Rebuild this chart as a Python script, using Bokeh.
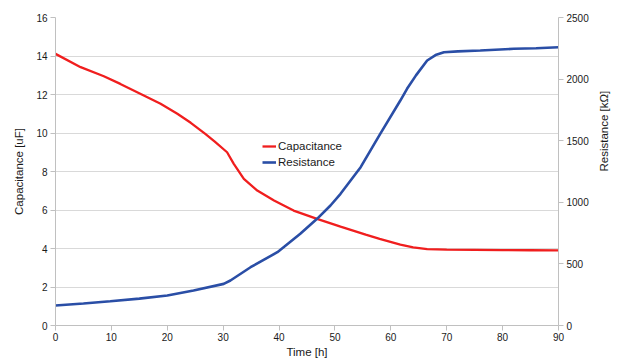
from bokeh.plotting import figure
from bokeh.models import Range1d, LinearAxis, SingleIntervalTicker, Legend, LegendItem
from bokeh.embed import file_html
from bokeh.resources import INLINE
import math

# Capacitance series [uF]
cap_t = [0, 4.5, 8.65, 11.6, 15.8, 18.8, 21.8, 24.2, 26.8, 28.5, 30.7, 31.9, 33.7, 36.1,
         39.1, 42.6, 46.8, 51, 55.5, 58, 61.7, 64, 66.5, 70, 75, 80, 85, 90]
cap_v = [14.11, 13.42, 12.95, 12.55, 11.95, 11.52, 11.0, 10.53, 9.95, 9.55, 9.0, 8.4, 7.62, 7.01,
         6.49, 5.97, 5.54, 5.14, 4.72, 4.5, 4.2, 4.06, 3.97, 3.94, 3.93, 3.92, 3.91, 3.9]

# Resistance series [kOhm]
res_t = [0, 5, 9.8, 15, 20, 24.7, 30.1, 31.3, 34.9, 39.7, 43.8, 46.8, 49.2, 51, 54.6, 58.1,
         61.7, 62.9, 64.5, 66.5, 68, 69.5, 72, 76, 82, 86, 90]
res_v = [162, 178, 197, 218, 243, 284, 338, 365, 473, 595, 744, 866, 974, 1069, 1285, 1556,
         1826, 1921, 2030, 2151, 2195, 2218, 2225, 2232, 2246, 2250, 2259]

series_names = ["Capacitance", "Resistance"]

FONT = "Liberation Sans"
TXT = "#1a1a1a"
AXC = "#c0c0c0"

p = figure(width=618, height=362, output_backend="svg", toolbar_location=None,
           x_range=Range1d(0, 90), y_range=Range1d(0, 16),
           min_border_left=55, min_border_right=60, min_border_top=17, min_border_bottom=37)
p.extra_y_ranges = {"res": Range1d(0, 2500)}
p.outline_line_color = None
p.background_fill_color = "white"
p.border_fill_color = "white"

r1 = p.line(cap_t, cap_v, line_color="#f01e1e", line_width=2.3)
r2 = p.line(res_t, res_v, line_color="#2a4ea6", line_width=2.6, y_range_name="res")

raxis = LinearAxis(y_range_name="res")
p.add_layout(raxis, "right")

p.xaxis.ticker = SingleIntervalTicker(interval=10)
p.yaxis[0].ticker = SingleIntervalTicker(interval=2)
raxis.ticker = SingleIntervalTicker(interval=500)

p.xaxis.axis_label = "Time [h]"
p.yaxis[0].axis_label = "Capacitance [uF]"
raxis.axis_label = "Resistance [kΩ]"

for ax in [p.xaxis[0], p.yaxis[0], raxis]:
    ax.axis_line_color = AXC
    ax.major_tick_line_color = AXC
    ax.major_tick_out = 5
    ax.major_tick_in = 0
    ax.minor_tick_line_color = None
    ax.major_label_text_font = FONT
    ax.major_label_text_font_size = "10px"
    ax.major_label_text_color = TXT
    ax.axis_label_text_font = FONT
    ax.axis_label_text_font_size = "11.5px"
    ax.axis_label_text_font_style = "normal"
    ax.axis_label_text_color = TXT
    ax.major_label_standoff = 3
    ax.axis_label_standoff = 8

p.xaxis.major_label_standoff = 2
p.xaxis.axis_label_standoff = 2
raxis.axis_label_standoff = 12
raxis.axis_label_orientation = math.pi / 2

p.xgrid.grid_line_color = None
p.ygrid.grid_line_color = "#d9d9d9"
p.ygrid.grid_line_width = 1

legend = Legend(items=[LegendItem(label=series_names[0], renderers=[r1]),
                       LegendItem(label=series_names[1], renderers=[r2])],
                location=(207, 155))
legend.background_fill_alpha = 0
legend.border_line_color = None
legend.margin = 0
legend.padding = 0
legend.spacing = 0
legend.glyph_width = 14
legend.glyph_height = 16
legend.label_height = 16
legend.label_standoff = 2
legend.label_text_font = FONT
legend.label_text_font_size = "11.5px"
legend.label_text_color = TXT
p.add_layout(legend, "center")

open("out.html", "w").write(file_html(p, INLINE))
